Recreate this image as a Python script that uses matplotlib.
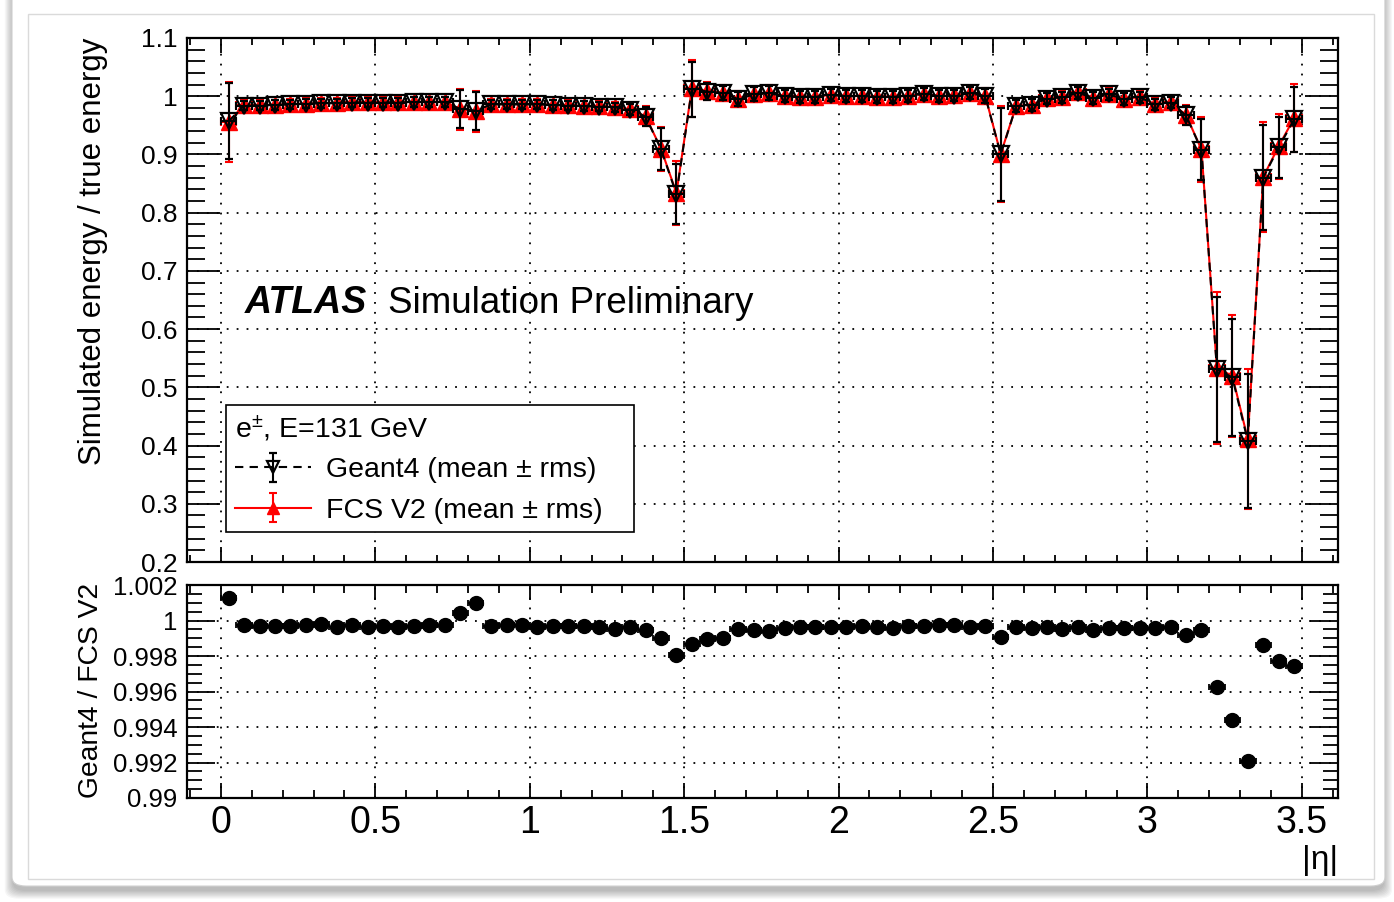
import numpy as np
import matplotlib.pyplot as plt
from matplotlib.patches import FancyBboxPatch, Rectangle
from matplotlib.ticker import MultipleLocator

plt.rcParams['font.family'] = ['Liberation Sans', 'DejaVu Sans']
plt.rcParams['mathtext.fontset'] = 'custom'
plt.rcParams['mathtext.rm'] = 'Liberation Sans'
plt.rcParams['mathtext.it'] = 'Liberation Sans:italic'

# |eta| bins of width 0.05
eta_edges = np.linspace(0.0, 3.5, 71)
eta = 0.5 * (eta_edges[:-1] + eta_edges[1:])
half_width = 0.025

g4_mean = [0.957, 0.984, 0.984, 0.985, 0.986, 0.987, 0.988, 0.988, 0.989, 0.989,
           0.989, 0.989, 0.990, 0.990, 0.990, 0.978, 0.975, 0.986, 0.986, 0.986,
           0.986, 0.985, 0.984, 0.983, 0.982, 0.981, 0.977, 0.965, 0.909, 0.832,
           1.012, 1.008, 1.005, 0.995, 1.003, 1.005, 1.000, 0.999, 0.999, 1.002,
           1.000, 1.000, 0.999, 0.999, 1.000, 1.004, 1.000, 1.001, 1.005, 1.000,
           0.900, 0.983, 0.985, 0.996, 0.998, 1.006, 0.997, 1.003, 0.995, 0.998,
           0.986, 0.989, 0.967, 0.908, 0.531, 0.517, 0.408, 0.860, 0.912, 0.960]

g4_rms = [0.065, 0.008, 0.008, 0.008, 0.008, 0.008, 0.008, 0.008, 0.008, 0.008,
          0.008, 0.008, 0.008, 0.008, 0.008, 0.033, 0.033, 0.008, 0.008, 0.008,
          0.008, 0.008, 0.008, 0.008, 0.008, 0.008, 0.009, 0.016, 0.036, 0.052,
          0.047, 0.014, 0.012, 0.012, 0.012, 0.012, 0.010, 0.010, 0.010, 0.010,
          0.010, 0.010, 0.010, 0.010, 0.010, 0.010, 0.010, 0.010, 0.010, 0.012,
          0.080, 0.010, 0.010, 0.010, 0.010, 0.010, 0.010, 0.010, 0.010, 0.010,
          0.010, 0.010, 0.016, 0.052, 0.125, 0.100, 0.115, 0.090, 0.053, 0.055]

fcs_rms = [0.068, 0.009, 0.009, 0.009, 0.009, 0.009, 0.009, 0.009, 0.009, 0.009,
           0.009, 0.009, 0.009, 0.009, 0.009, 0.035, 0.035, 0.009, 0.009, 0.009,
           0.009, 0.009, 0.009, 0.009, 0.009, 0.009, 0.010, 0.017, 0.038, 0.055,
           0.049, 0.015, 0.013, 0.013, 0.013, 0.013, 0.011, 0.011, 0.011, 0.011,
           0.011, 0.011, 0.011, 0.011, 0.011, 0.011, 0.011, 0.011, 0.011, 0.013,
           0.083, 0.011, 0.011, 0.011, 0.011, 0.011, 0.011, 0.011, 0.011, 0.011,
           0.011, 0.011, 0.017, 0.055, 0.130, 0.105, 0.120, 0.095, 0.056, 0.058]

# Geant4 / FCS V2 mean ratio per bin
ratio = [1.00125, 0.99973, 0.99970, 0.99970, 0.99970, 0.99975, 0.99983, 0.99966, 0.99973, 0.99966,
         0.99970, 0.99962, 0.99970, 0.99975, 0.99975, 1.00045, 1.00098, 0.99970, 0.99973, 0.99975,
         0.99966, 0.99970, 0.99970, 0.99970, 0.99966, 0.99955, 0.99966, 0.99947, 0.99900, 0.99803,
         0.99866, 0.99894, 0.99900, 0.99951, 0.99945, 0.99941, 0.99960, 0.99962, 0.99966, 0.99966,
         0.99966, 0.99970, 0.99962, 0.99960, 0.99970, 0.99970, 0.99973, 0.99973, 0.99964, 0.99970,
         0.99909, 0.99966, 0.99960, 0.99962, 0.99955, 0.99962, 0.99947, 0.99958, 0.99958, 0.99958,
         0.99958, 0.99966, 0.99917, 0.99947, 0.99626, 0.99441, 0.99211, 0.99860, 0.99771, 0.99743]

fcs_mean = np.array(g4_mean) / np.array(ratio)

fig = plt.figure(figsize=(13.94, 9.02), dpi=100)
fig.patch.set_facecolor('white')

# card with soft shadow behind the canvas
for k in range(8):
    s = FancyBboxPatch((0.009 - k * 0.0008, 0.012 - k * 0.0012), 0.984 + k * 0.0016, 1.2,
                       boxstyle='round,pad=0,rounding_size=0.01', transform=fig.transFigure,
                       facecolor='black', edgecolor='none', alpha=0.035, zorder=-10)
    fig.patches.append(s)
card = FancyBboxPatch((0.0086, 0.0177), 0.9849, 1.2, boxstyle='round,pad=0,rounding_size=0.01',
                      transform=fig.transFigure, facecolor='white', edgecolor='#cfcfcf',
                      lw=0.8, zorder=-9)
fig.patches.append(card)
fig.patches.append(Rectangle((0.0201, 0.0255), 0.9656, 0.959, transform=fig.transFigure,
                             facecolor='none', edgecolor='#dadada', lw=1.0, zorder=-8))

ax = fig.add_axes([0.1341, 0.3769, 0.8257, 0.5810])
ax2 = fig.add_axes([0.1341, 0.1153, 0.8257, 0.2361])

for a in (ax, ax2):
    a.set_facecolor('none')
    a.set_xlim(-0.11, 3.617)
    a.xaxis.set_major_locator(MultipleLocator(0.5))
    a.xaxis.set_minor_locator(MultipleLocator(0.1))
    a.grid(True, which='major', color='black', ls=(0, (1, 4.5)), lw=1.3)
    for sp in a.spines.values():
        sp.set_linewidth(1.6)
    a.tick_params(which='both', direction='in', top=True, right=True, width=1.3, colors='black')

# upper panel: bin-width bars drawn apart so the legend keys show only the rms bars
ax.errorbar(eta, fcs_mean, xerr=half_width, fmt='none', ecolor='red', elinewidth=1.5,
            capsize=3, capthick=1.5, zorder=3)
fcs = ax.errorbar(eta, fcs_mean, yerr=fcs_rms, color='red', marker='^',
                  ms=12, lw=1.5, elinewidth=1.5, capsize=3, capthick=1.5, zorder=3)
ax.errorbar(eta, g4_mean, xerr=half_width, fmt='none', ecolor='black', elinewidth=1.5,
            capsize=3, capthick=1.5, zorder=4)
g4 = ax.errorbar(eta, g4_mean, yerr=g4_rms, color='black', marker='v',
                 mfc='none', mec='black', mew=1.6, ms=12, ls=(0, (4, 3)), lw=1.5,
                 elinewidth=1.5, capsize=3, capthick=1.5, zorder=4)

ax.set_ylim(0.2, 1.1)
ax.yaxis.set_minor_locator(MultipleLocator(0.02))
ax.set_yticks(np.arange(0.2, 1.101, 0.1))
ax.set_yticklabels(['0.2', '0.3', '0.4', '0.5', '0.6', '0.7', '0.8', '0.9', '1', '1.1'])
ax.tick_params(axis='y', which='major', length=24, labelsize=19, pad=7)
ax.tick_params(axis='y', which='minor', length=13)
ax.tick_params(axis='x', which='major', length=11)
ax.tick_params(axis='x', which='minor', length=5)
ax.tick_params(axis='x', labelbottom=False)

ax.text(0.0504, 0.475, 'ATLAS', transform=ax.transAxes, fontsize=27,
        fontweight='bold', fontstyle='italic', va='baseline')
ax.text(0.1746, 0.475, 'Simulation Preliminary', transform=ax.transAxes, fontsize=26.5,
        va='baseline')

leg = ax.legend([g4, fcs], ['Geant4 (mean \u00b1 rms)', 'FCS V2 (mean \u00b1 rms)'],
                title='e$^{\\pm}$, E=131 GeV', title_fontsize=20.5, fontsize=20.5,
                loc='lower left', bbox_to_anchor=(0.034, 0.057, 0.354, 0.2), mode='expand',
                alignment='left', fancybox=False, framealpha=1, edgecolor='black',
                handlelength=2.7, handletextpad=0.5, borderpad=0.3, labelspacing=0.5,
                borderaxespad=0, markerscale=0.75)
leg.get_frame().set_linewidth(1.2)

# lower panel
ax2.errorbar(eta, ratio, xerr=half_width, fmt='o', color='black', ms=10,
             elinewidth=1.3, capsize=2.5, capthick=1.3, zorder=3)
ax2.set_ylim(0.99, 1.002)
ax2.set_yticks([0.99, 0.992, 0.994, 0.996, 0.998, 1.0, 1.002])
ax2.set_yticklabels(['0.99', '0.992', '0.994', '0.996', '0.998', '1', '1.002'])
ax2.yaxis.set_minor_locator(MultipleLocator(0.0005))
ax2.tick_params(axis='y', which='major', length=20, labelsize=18.5, pad=7)
ax2.tick_params(axis='y', which='minor', length=11)
ax2.tick_params(axis='x', which='major', length=11, labelsize=27, pad=5)
ax2.tick_params(axis='x', which='minor', length=6)
ax2.set_xticks([0, 0.5, 1, 1.5, 2, 2.5, 3, 3.5])
ax2.set_xticklabels(['0', '0.5', '1', '1.5', '2', '2.5', '3', '3.5'])

fig.text(0.0667, 0.9579, 'Simulated energy / true energy', rotation=90, ha='center', va='top',
         fontsize=22.5)
fig.text(0.0653, 0.3537, 'Geant4 / FCS V2', rotation=90, ha='center', va='top', fontsize=20.3)
fig.text(0.9598, 0.0632, '|\u03b7|', ha='right', va='top', fontsize=24)

fig.savefig('out.png', dpi=100)
